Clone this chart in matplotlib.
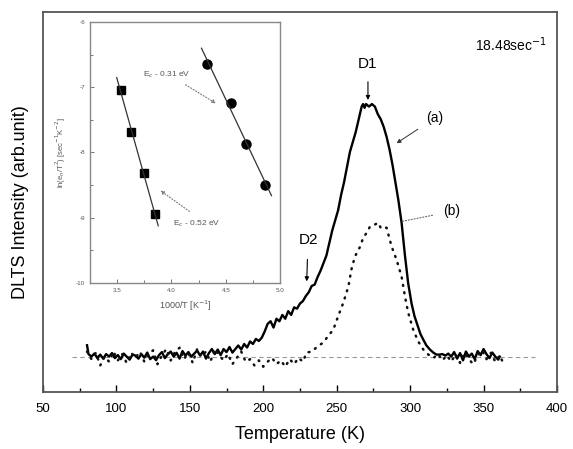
import matplotlib
matplotlib.use("Agg")
import matplotlib.pyplot as plt
import numpy as np

plt.rcParams['font.family'] = ['Liberation Sans', 'DejaVu Sans']

# 曲线 (a) 实线, 温度(K) 与 强度(相对单位, 基线=0, 峰=1)
t_a = [80, 81, 83, 85, 87, 89, 91, 93, 95, 97, 99, 101, 103, 105, 107, 109, 111, 113, 115, 117,
       119, 121, 123, 125, 127, 129, 131, 133, 135, 137, 139, 141, 143, 145, 147, 149, 151, 153,
       155, 157, 159, 161, 163, 165, 167, 169, 171, 173, 175, 177, 179, 181, 183, 185, 187, 189,
       191, 193, 195, 197, 199, 201, 203, 205, 207, 209, 211, 213, 215, 217, 219, 221, 223, 225,
       227, 229, 231, 233, 235, 237, 239, 241, 243, 245, 247, 249, 251, 253, 255, 257, 259, 261,
       263, 265, 267, 268, 269, 270, 272, 274, 276, 278, 280, 282, 284, 286, 288, 290, 292, 293,
       294.2, 296.5, 298.7, 301, 303, 305, 307, 309, 311, 313.5, 316, 318, 320, 322, 324, 326,
       328, 330, 332, 334, 336, 338, 340, 342, 344, 346, 348, 350, 352, 354, 356, 358, 360, 361]
v_a = [0.045, 0.01, 0.0, 0.012, -0.005, 0.008, -0.008, 0.01, 0.0, 0.014, -0.006, 0.006, -0.01,
       0.012, 0.0, -0.012, 0.008, 0.004, -0.008, 0.01, -0.004, 0.016, -0.01, 0.0, -0.014, 0.006,
       0.018, -0.006, 0.01, 0.02, 0.0, 0.015, -0.008, 0.022, 0.004, 0.018, 0.0, 0.012, 0.024,
       0.004, 0.02, -0.008, 0.014, 0.03, 0.01, 0.028, 0.006, 0.03, 0.018, 0.038, 0.016, 0.03,
       0.044, 0.028, 0.05, 0.036, 0.06, 0.05, 0.07, 0.062, 0.075, 0.1, 0.13, 0.14, 0.115, 0.15,
       0.14, 0.165, 0.15, 0.18, 0.165, 0.195, 0.19, 0.21, 0.22, 0.24, 0.255, 0.28, 0.285, 0.315,
       0.34, 0.37, 0.40, 0.45, 0.50, 0.54, 0.58, 0.64, 0.69, 0.75, 0.81, 0.85, 0.89, 0.94, 0.99,
       1.0, 0.985, 1.0, 0.99, 1.0, 0.99, 0.96, 0.94, 0.91, 0.87, 0.82, 0.76, 0.69, 0.62, 0.58,
       0.53, 0.40, 0.29, 0.21, 0.16, 0.125, 0.09, 0.067, 0.045, 0.028, 0.015, 0.008, 0.008, 0.01,
       0.004, 0.012, 0.0, 0.018, -0.008, 0.014, -0.015, 0.02, 0.0, 0.012, -0.01, 0.022, 0.006,
       0.03, 0.01, -0.006, 0.016, 0.0, -0.012, 0.0]

# 曲线 (b) 点线
t_b = [80, 83, 86, 89, 92, 95, 98, 101, 104, 107, 110, 113, 116, 119, 122, 125, 128, 131, 134,
       137, 140, 143, 146, 149, 152, 155, 158, 161, 164, 167, 170, 173, 176, 179, 182, 185, 188,
       191, 194, 197, 200, 203, 206, 209, 212, 215, 218, 221, 224, 227, 229.5, 233, 237, 240.7,
       244, 247.7, 251, 254.5, 258, 260, 262.4, 266, 268, 270.4, 272.7, 275, 278.3, 280, 281.7,
       284, 287.4, 290.8, 294.2, 296.5, 298.7, 302.1, 305.5, 309, 312.4, 316, 319, 322, 325, 328,
       331, 334, 337, 340, 343, 346, 349, 352, 355, 358, 361, 363.4]
v_b = [0.02, -0.01, 0.015, -0.035, 0.0, -0.02, 0.02, -0.015, 0.01, -0.025, 0.015, -0.005, 0.02,
       -0.02, 0.01, 0.025, -0.03, 0.005, 0.03, -0.015, 0.02, 0.035, -0.01, 0.015, -0.025, 0.03,
       0.0, 0.02, -0.02, 0.03, 0.005, -0.015, 0.01, -0.03, -0.005, 0.02, -0.02, -0.01, -0.035,
       -0.015, -0.04, -0.02, -0.005, -0.03, -0.015, -0.04, -0.01, -0.03, -0.005, -0.02, 0.016,
       0.02, 0.04, 0.055, 0.08, 0.107, 0.16, 0.213, 0.278, 0.344, 0.396, 0.436, 0.47, 0.49, 0.515,
       0.52, 0.53, 0.51, 0.515, 0.51, 0.436, 0.383, 0.317, 0.238, 0.174, 0.107, 0.06, 0.028, 0.008,
       -0.005, 0.01, -0.015, 0.005, -0.02, 0.01, -0.025, 0.015, -0.01, -0.03, 0.005, 0.025, -0.01,
       0.015, -0.02, 0.005, -0.025]

# 插图: Arrhenius 数据
inv_t_sq = [3.532, 3.63, 3.744, 3.848]
ln_sq = [-7.047, -7.686, -8.31, -8.947]
inv_t_ci = [4.326, 4.55, 4.69, 4.86]
ln_ci = [-6.648, -7.237, -7.865, -8.498]

fig = plt.figure(figsize=(5.73, 4.49), dpi=100)
ax = fig.add_axes([0.075, 0.127, 0.897, 0.846])

ax.axhline(0, xmin=(69.5 - 50) / 350, xmax=(385 - 50) / 350, color='#999999',
           lw=0.8, dashes=(4, 3))
ax.plot(t_a, v_a, color='black', lw=1.7)
ax.plot(t_b, v_b, color='#111111', lw=1.8, linestyle=(0, (0.4, 2.6)), dash_capstyle='round')

ax.set_xlim(50, 400)
ax.set_ylim(-0.14, 1.364)
ax.set_xticks(range(50, 401, 50))
ax.set_xticks(range(75, 400, 50), minor=True)
ax.set_yticks([])
ax.tick_params(axis='x', which='major', direction='in', length=5, width=1, labelsize=9.5, pad=8)
ax.tick_params(axis='x', which='minor', direction='in', length=3, width=1)
for s in ax.spines.values():
    s.set_color('#555555')
    s.set_linewidth(1.3)
ax.set_xlabel('Temperature (K)', fontsize=13, labelpad=8)
ax.set_ylabel('DLTS Intensity (arb.unit)', fontsize=13, labelpad=10)

ax.text(0.98, 0.913, '18.48sec$^{-1}$', transform=ax.transAxes, ha='right', va='center',
        fontsize=10)

# 峰的标注
ax.annotate('D1', xy=(271.3, 1.016), xytext=(271.3, 1.16), ha='center', va='center',
            fontsize=11, arrowprops=dict(arrowstyle='-|>', color='black', lw=0.8,
                                         mutation_scale=6, shrinkA=6, shrinkB=0))
ax.annotate('D2', xy=(229.6, 0.298), xytext=(230.5, 0.462), ha='center', va='center',
            fontsize=11, arrowprops=dict(arrowstyle='-|>', color='black', lw=0.8,
                                         mutation_scale=6, shrinkA=7, shrinkB=0))
ax.annotate('(a)', xy=(290.8, 0.845), xytext=(316.9, 0.945), ha='center', va='center',
            fontsize=10, arrowprops=dict(arrowstyle='-|>', color='#333333', lw=0.7,
                                         mutation_scale=6, shrinkA=5, shrinkB=0))
ax.annotate('(b)', xy=(294.2, 0.535), xytext=(328.5, 0.575), ha='center', va='center',
            fontsize=10, arrowprops=dict(arrowstyle='-', color='#666666', lw=0.8,
                                         linestyle=':', shrinkA=6, shrinkB=0))

# 插图
ins = fig.add_axes([0.157, 0.370, 0.332, 0.581])
ins.plot(inv_t_sq, ln_sq, 's', color='black', ms=6)
ins.plot(inv_t_ci, ln_ci, 'o', color='black', ms=6.5)
k1, b1 = np.polyfit(inv_t_sq, ln_sq, 1)
xs1 = np.array([inv_t_sq[0] - 0.036, inv_t_sq[-1] + 0.03])
ins.plot(xs1, k1 * xs1 + b1, color='#333333', lw=0.9)
k2, b2 = np.polyfit(inv_t_ci, ln_ci, 1)
xs2 = np.array([inv_t_ci[0] - 0.05, inv_t_ci[-1] + 0.06])
ins.plot(xs2, k2 * xs2 + b2, color='#333333', lw=0.9)

ins.set_xlim(3.25, 5.0)
ins.set_ylim(-10, -6)
ins.set_xticks([3.5, 4.0, 4.5, 5.0])
ins.set_xticks([3.75, 4.25, 4.75], minor=True)
ins.set_yticks([-10, -9, -8, -7, -6])
ins.set_yticks([-9.5, -8.5, -7.5, -6.5], minor=True)
ins.set_yticklabels(['-10', '-9', '-8', '-7', '-6'])
ins.tick_params(which='both', direction='in', labelsize=4.5, labelcolor='#555555',
                color='#777777', width=0.7)
ins.tick_params(which='major', length=3)
ins.tick_params(which='minor', length=2)
for s in ins.spines.values():
    s.set_color('#888888')
    s.set_linewidth(1.0)
ins.set_xlabel('1000/T [K$^{-1}$]', fontsize=6.5, color='#555555', labelpad=4)
ins.set_ylabel('ln(e$_n$/T$^2$) [sec$^{-1}$K$^{-2}$]', fontsize=5.5, color='#555555', labelpad=6)

ins.text(3.738, -6.81, 'E$_c$ - 0.31 eV', fontsize=6, color='#555555', ha='left', va='center')
ins.annotate('', xy=(4.43, -7.27), xytext=(4.108, -6.94),
             arrowprops=dict(arrowstyle='-|>', color='#777777', lw=0.8, linestyle=':',
                             mutation_scale=5))
ins.text(4.016, -9.10, 'E$_c$ - 0.52 eV', fontsize=6, color='#555555', ha='left', va='center')
ins.annotate('', xy=(3.878, -8.56), xytext=(4.186, -8.93),
             arrowprops=dict(arrowstyle='-|>', color='#777777', lw=0.8, linestyle=':',
                             mutation_scale=5))

fig.savefig('out.png', dpi=100)
